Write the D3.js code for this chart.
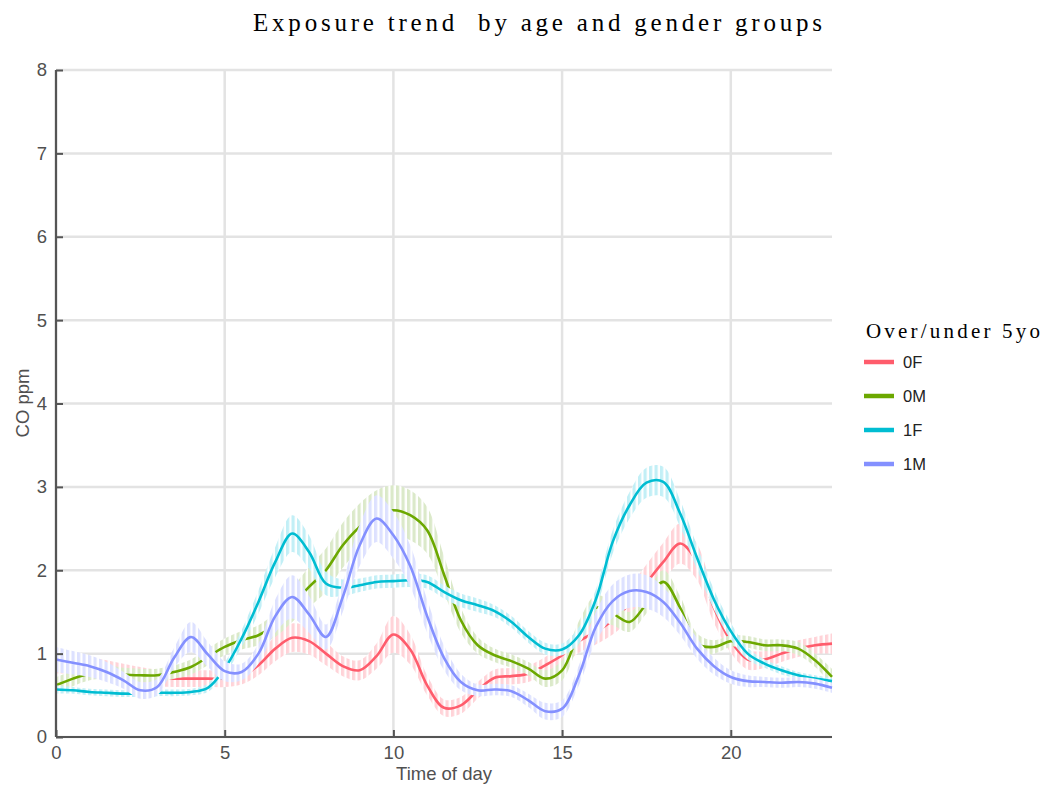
<!DOCTYPE html>
<html><head><meta charset="utf-8">
<script src="https://cdn.jsdelivr.net/npm/d3@7"></script>
<style>body{margin:0;background:#fff}</style>
</head><body>
<svg id="c" width="1043" height="785"></svg>
<script>
const hours = [0,0.5,1,1.5,2,2.5,3,3.5,4,4.5,5,5.5,6,6.5,7,7.5,8,8.5,9,9.5,10,10.5,11,11.5,12,12.5,13,13.5,14,14.5,15,15.5,16,16.5,17,17.5,18,18.5,19,19.5,20,20.5,21,21.5,22,22.5,23];
const groups = ["0F","0M","1F","1M"];
const v0F = [0.90,0.88,0.85,0.82,0.78,0.74,0.71,0.70,0.70,0.70,0.70,0.73,0.86,1.06,1.19,1.15,1.00,0.85,0.80,0.97,1.23,1.05,0.62,0.35,0.38,0.56,0.71,0.73,0.76,0.86,0.98,1.15,1.26,1.40,1.60,1.85,2.10,2.32,2.10,1.55,1.15,0.93,0.93,1.00,1.06,1.10,1.12];
const v0M = [0.62,0.70,0.76,0.78,0.75,0.74,0.74,0.78,0.84,0.96,1.08,1.16,1.22,1.35,1.58,1.80,2.00,2.30,2.52,2.66,2.72,2.66,2.48,1.95,1.40,1.10,0.98,0.91,0.82,0.70,0.80,1.25,1.55,1.48,1.38,1.60,1.86,1.55,1.12,1.08,1.15,1.14,1.10,1.10,1.06,0.92,0.72];
const v1F = [0.57,0.56,0.54,0.53,0.52,0.52,0.53,0.53,0.54,0.59,0.82,1.18,1.62,2.10,2.44,2.22,1.84,1.79,1.82,1.86,1.87,1.88,1.86,1.74,1.64,1.58,1.51,1.38,1.20,1.06,1.05,1.22,1.65,2.34,2.78,3.05,3.06,2.68,2.15,1.65,1.27,1.00,0.88,0.80,0.74,0.70,0.67];
const v1M = [0.93,0.89,0.85,0.78,0.68,0.56,0.60,0.95,1.20,0.99,0.79,0.78,1.00,1.45,1.68,1.47,1.20,1.68,2.30,2.62,2.42,2.05,1.45,0.95,0.66,0.56,0.57,0.55,0.44,0.31,0.34,0.74,1.32,1.63,1.75,1.74,1.62,1.37,1.06,0.85,0.72,0.67,0.66,0.65,0.66,0.64,0.59];
const se0F = [0.14,0.12,0.11,0.10,0.10,0.10,0.10,0.10,0.10,0.10,0.10,0.10,0.12,0.15,0.17,0.16,0.14,0.12,0.12,0.15,0.22,0.18,0.12,0.10,0.10,0.10,0.10,0.10,0.10,0.10,0.12,0.14,0.15,0.17,0.20,0.22,0.23,0.24,0.22,0.18,0.14,0.12,0.10,0.10,0.10,0.10,0.12];
const se0M = [0.10,0.09,0.08,0.08,0.08,0.08,0.08,0.08,0.09,0.10,0.10,0.11,0.12,0.15,0.20,0.24,0.26,0.27,0.28,0.30,0.30,0.30,0.28,0.22,0.15,0.10,0.08,0.08,0.08,0.10,0.12,0.14,0.15,0.14,0.12,0.12,0.14,0.14,0.12,0.08,0.07,0.07,0.07,0.07,0.08,0.08,0.10];
const se1F = [0.05,0.04,0.04,0.04,0.04,0.04,0.04,0.04,0.04,0.05,0.07,0.10,0.14,0.18,0.22,0.20,0.14,0.10,0.08,0.08,0.08,0.08,0.08,0.08,0.08,0.08,0.07,0.07,0.07,0.07,0.07,0.10,0.12,0.14,0.16,0.18,0.18,0.16,0.14,0.12,0.10,0.07,0.05,0.05,0.04,0.04,0.04];
const se1M = [0.15,0.14,0.13,0.12,0.10,0.10,0.10,0.12,0.18,0.15,0.12,0.10,0.12,0.20,0.26,0.22,0.15,0.18,0.25,0.28,0.28,0.25,0.20,0.15,0.10,0.07,0.07,0.07,0.08,0.10,0.10,0.12,0.18,0.20,0.20,0.20,0.18,0.15,0.12,0.10,0.08,0.07,0.06,0.06,0.06,0.06,0.06];
const xTicks = [0,5,10,15,20];
const yTicks = [0,1,2,3,4,5,6,7,8];

const values = [v0F, v0M, v1F, v1M];
const ses = [se0F, se0M, se1F, se1M];
const colors = ["#ff5c6c","#6ca800","#00bdd2","#8490ff"];
const tints = ["#ffd3d8","#dbe9c9","#c2eff6","#dde1ff"];

const svg = d3.select("#c");
const x = d3.scaleLinear().domain([0,23]).range([56,832]);
const y = d3.scaleLinear().domain([0,8]).range([737,70]);

const defs = svg.append("defs");
groups.forEach((g,i)=>{
  const p = defs.append("pattern").attr("id","hatch"+i).attr("patternUnits","userSpaceOnUse")
    .attr("width",5.5).attr("height",785);
  p.append("rect").attr("width",5.5).attr("height",785).attr("fill","#fff");
  p.append("rect").attr("width",3.2).attr("height",785).attr("fill",tints[i]);
});

// grid
const grid = svg.append("g");
grid.selectAll("line.h").data(yTicks).join("line")
  .attr("x1",56).attr("x2",832).attr("y1",d=>y(d)).attr("y2",d=>y(d))
  .attr("stroke","#e3e3e3").attr("stroke-width",2.5);
grid.selectAll("line.v").data(xTicks).join("line")
  .attr("y1",70).attr("y2",737).attr("x1",d=>x(d)).attr("x2",d=>x(d))
  .attr("stroke","#e3e3e3").attr("stroke-width",2.5);

const area = d3.area().x(d=>x(d.t)).y0(d=>y(d.v-d.s)).y1(d=>y(d.v+d.s)).curve(d3.curveCatmullRom.alpha(0.5));
const line = d3.line().x(d=>x(d.t)).y(d=>y(d.v)).curve(d3.curveCatmullRom.alpha(0.5));

const plot = svg.append("g");
groups.forEach((g,i)=>{
  const data = hours.map((t,k)=>({t, v: values[i][k], s: ses[i][k]}));
  plot.append("path").attr("d",area(data)).attr("fill","url(#hatch"+i+")");
  plot.append("path").attr("d",line(data)).attr("fill","none").attr("stroke",colors[i]).attr("stroke-width",2.6);
});

// axes
const axisCol = "#505050";
const fs = 18.5;
const yAx = svg.append("g").attr("transform","translate(56,0)")
  .call(d3.axisLeft(y).tickValues(yTicks).tickSize(-7).tickPadding(9).tickFormat(d3.format("d")));
const xAx = svg.append("g").attr("transform","translate(0,737)")
  .call(d3.axisBottom(x).tickValues(xTicks).tickSize(-7).tickPadding(9).tickFormat(d3.format("d")));
[yAx,xAx].forEach(a=>{
  a.select(".domain").attr("stroke","#555").attr("stroke-width",2.2);
  a.selectAll(".tick line").attr("stroke","#555").attr("stroke-width",2);
  a.selectAll(".tick text").attr("fill",axisCol).attr("font-family","Liberation Sans, Arial, sans-serif").attr("font-size",fs);
});
yAx.select(".domain").attr("d","M0,70V737");
xAx.select(".domain").attr("d","M56,0H832");

svg.append("text").attr("x",444).attr("y",780).attr("text-anchor","middle")
  .attr("font-family","Liberation Sans, Arial, sans-serif").attr("font-size",fs).attr("fill",axisCol).text("Time of day");
svg.append("text").attr("transform","translate(29,403) rotate(-90)").attr("text-anchor","middle")
  .attr("font-family","Liberation Sans, Arial, sans-serif").attr("font-size",fs).attr("fill",axisCol).text("CO ppm");

// title
svg.append("text").attr("x",253).attr("y",31).attr("textLength",569).attr("lengthAdjust","spacing")
  .attr("font-family","Liberation Serif, serif").attr("font-size",25).attr("fill","#000")
  .style("white-space","pre").text("Exposure trend  by age and gender groups");

// legend
svg.append("text").attr("x",866).attr("y",338).attr("textLength",174).attr("lengthAdjust","spacing")
  .attr("font-family","Liberation Serif, serif").attr("font-size",21).attr("fill","#000")
  .text("Over/under 5yo");
const leg = svg.append("g");
groups.forEach((g,i)=>{
  const yy = 362 + i*34;
  leg.append("line").attr("x1",864).attr("x2",894).attr("y1",yy).attr("y2",yy)
    .attr("stroke",colors[i]).attr("stroke-width",4.5);
  leg.append("text").attr("x",903).attr("y",yy+6).attr("font-family","Liberation Sans, Arial, sans-serif")
    .attr("font-size",16.5).attr("fill","#222").text(g);
});
</script>
</body></html>
